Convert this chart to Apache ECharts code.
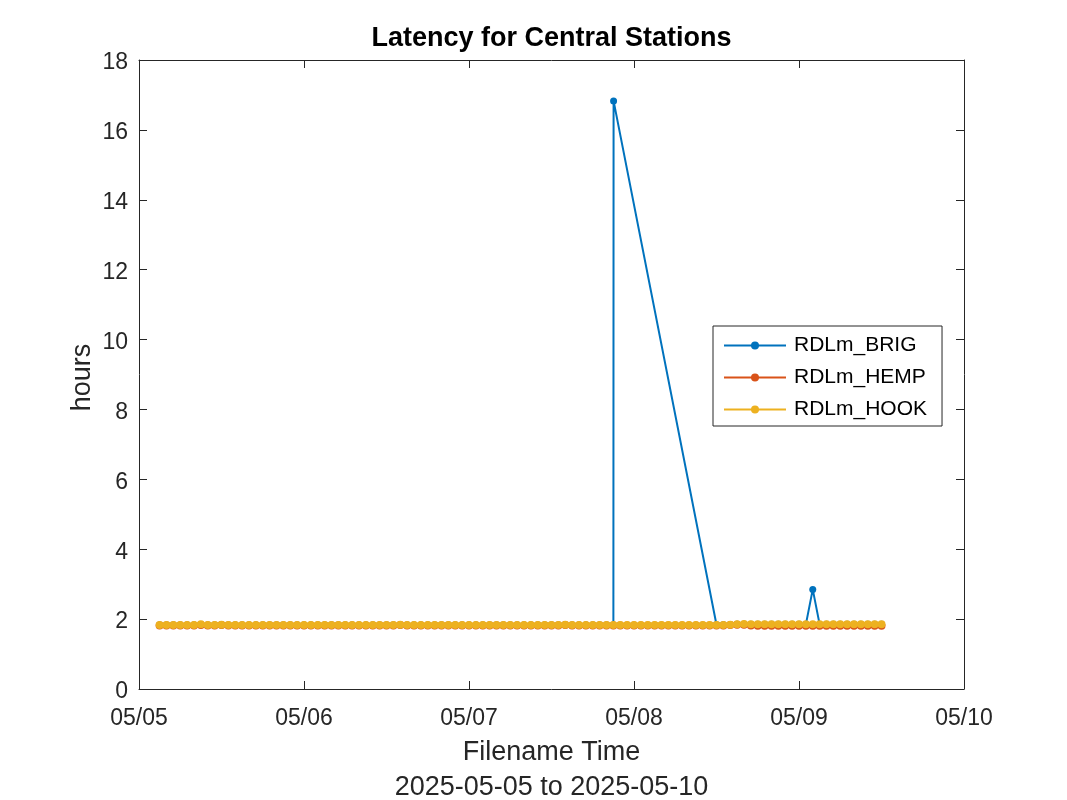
<!DOCTYPE html>
<html>
<head>
<meta charset="utf-8">
<script src="https://cdn.jsdelivr.net/npm/echarts@6/dist/echarts.min.js"></script>
<style>html,body{margin:0;padding:0;background:#fff}#c{width:1067px;height:800px}</style>
</head>
<body>
<div id="c"></div>
<script>
// x values are hours since 2025-05-05 00:00
var xTickLabels = ['05/05', '05/06', '05/07', '05/08', '05/09', '05/10'];
var yTicks = [0, 2, 4, 6, 8, 10, 12, 14, 16, 18];
var firstHour = 3;   // 05/05 03:00
var lastHour = 108;  // 05/09 12:00

var hookValues = [
  1.83,1.83,1.83,1.83,1.83,1.83,1.85,1.83,1.83,1.84,
  1.83,1.83,1.83,1.83,1.83,1.83,1.83,1.83,1.83,1.83,
  1.83,1.83,1.83,1.83,1.83,1.83,1.83,1.83,1.83,1.83,
  1.83,1.83,1.83,1.83,1.83,1.84,1.83,1.83,1.83,1.83,
  1.83,1.83,1.83,1.83,1.83,1.83,1.83,1.83,1.83,1.83,
  1.83,1.83,1.83,1.83,1.83,1.83,1.83,1.83,1.83,1.84,
  1.83,1.83,1.83,1.83,1.83,1.83,1.83,1.83,1.83,1.83,
  1.83,1.83,1.83,1.83,1.83,1.83,1.83,1.83,1.83,1.83,
  1.83,1.83,1.83,1.84,1.85,1.86,1.85,1.85,1.85,1.85,
  1.85,1.85,1.85,1.85,1.85,1.85,1.85,1.85,1.85,1.85,
  1.85,1.85,1.85,1.85,1.85,1.85
];
var hempValues = [
  1.82,1.82,1.82,1.82,1.82,1.82,1.83,1.82,1.82,1.83,
  1.82,1.82,1.82,1.82,1.82,1.82,1.82,1.82,1.82,1.82,
  1.82,1.82,1.82,1.82,1.82,1.82,1.82,1.82,1.82,1.82,
  1.82,1.82,1.82,1.82,1.82,1.83,1.82,1.82,1.82,1.82,
  1.82,1.82,1.82,1.82,1.82,1.82,1.82,1.82,1.82,1.82,
  1.82,1.82,1.82,1.82,1.82,1.82,1.82,1.82,1.82,1.83,
  1.82,1.82,1.82,1.82,1.82,1.82,1.82,1.82,1.82,1.82,
  1.82,1.82,1.82,1.82,1.82,1.82,1.82,1.82,1.82,1.82,
  1.82,1.82,1.82,1.83,1.84,1.84,1.82,1.81,1.81,1.81,
  1.81,1.81,1.81,1.81,1.81,1.81,1.81,1.81,1.81,1.81,
  1.81,1.81,1.81,1.81,1.81,1.81
];
// null = no file for that hour
var brigValues = [
  1.83,1.83,1.83,1.83,1.83,1.83,1.84,1.83,1.83,1.83,
  1.83,1.83,1.83,1.83,1.83,1.83,1.83,1.83,1.83,1.83,
  1.83,1.83,1.83,1.83,1.83,1.83,1.83,1.83,1.83,1.83,
  1.83,1.83,1.83,1.83,1.83,1.83,1.83,1.83,1.83,1.83,
  1.83,1.83,1.83,1.83,1.83,1.83,1.83,1.83,1.83,1.83,
  1.83,1.83,1.83,1.83,1.83,1.83,1.83,1.83,1.83,1.83,
  1.83,1.83,1.83,1.83,1.83,1.83,1.83,null,null,null,
  null,null,null,null,null,null,null,null,null,null,
  null,1.84,1.84,1.84,1.85,1.85,1.85,1.85,1.85,1.85,
  1.85,1.85,1.85,1.85,1.85,2.85,1.85,1.85,1.85,1.85,
  1.85,1.85,1.85,1.85,1.85,1.85
];
var brigSpikeHour = 69;
var brigSpikeValue = 16.83;

var hours = [];
for (var h = firstHour; h <= lastHour; h++) hours.push(h);

function pairs(vals) {
  var out = [];
  for (var i = 0; i < hours.length; i++) if (vals[i] !== null) out.push([hours[i], vals[i]]);
  return out;
}
var brigData = [];
for (var i = 0; i < hours.length; i++) {
  if (brigValues[i] !== null) brigData.push([hours[i], brigValues[i]]);
  if (hours[i] === brigSpikeHour) brigData.push([brigSpikeHour + 0.03, brigSpikeValue]);
}

var FONT = '"Liberation Sans", Arial, Helvetica, sans-serif';
var TXT = '#262626';
var L = 139, R = 964, T = 60, B = 689;

var chart = echarts.init(document.getElementById('c'), null, {renderer: 'canvas'});
function tick() { return {show: true, inside: true, length: 8, lineStyle: {color: TXT, width: 1}}; }
function line() { return {show: true, onZero: false, lineStyle: {color: TXT, width: 1}}; }

chart.setOption({
  backgroundColor: '#fff',
  animation: false,
  grid: {left: L, right: 1067 - R, top: T, bottom: 800 - B, containLabel: false},
  legend: {
    orient: 'vertical',
    left: 713, top: 326,
    backgroundColor: '#fff',
    borderColor: TXT, borderWidth: 1, borderRadius: 0,
    padding: [9, 15, 6, 10],
    itemWidth: 62, itemHeight: 10, itemGap: 11,
    textStyle: {fontFamily: FONT, fontSize: 21, color: '#000', padding: [0, 0, 0, 3]},
    data: ['RDLm_BRIG', 'RDLm_HEMP', 'RDLm_HOOK']
  },
  xAxis: [{
    type: 'value', min: 0, max: 120, interval: 24, position: 'bottom',
    axisLine: line(), axisTick: tick(), splitLine: {show: false},
    axisLabel: {
      show: true, margin: 18, color: TXT, fontFamily: FONT, fontSize: 23,
      formatter: function (v) { return xTickLabels[Math.round(v / 24)]; }
    }
  }, {
    type: 'value', min: 0, max: 120, interval: 24, position: 'top',
    axisLine: line(), axisTick: tick(), splitLine: {show: false},
    axisLabel: {show: false}
  }],
  yAxis: [{
    type: 'value', min: yTicks[0], max: yTicks[yTicks.length - 1], interval: 2, position: 'left',
    axisLine: line(), axisTick: tick(), splitLine: {show: false},
    axisLabel: {
      show: true, margin: 11, color: TXT, fontFamily: FONT, fontSize: 23,
      formatter: function (v) { return '{v|' + v + '}'; },
      rich: {v: {fontFamily: FONT, fontSize: 23, color: TXT, lineHeight: 23, padding: [6, 0, 0, 0]}}
    }
  }, {
    type: 'value', min: yTicks[0], max: yTicks[yTicks.length - 1], interval: 2, position: 'right',
    axisLine: line(), axisTick: tick(), splitLine: {show: false},
    axisLabel: {show: false}
  }],
  series: [{
    name: 'RDLm_BRIG', type: 'line', data: brigData, xAxisIndex: 0, yAxisIndex: 0,
    color: '#0072BD', symbol: 'circle', symbolSize: 7, showAllSymbol: true,
    lineStyle: {width: 2}, connectNulls: true, z: 2
  }, {
    name: 'RDLm_HEMP', type: 'line', data: pairs(hempValues),
    color: '#D95319', symbol: 'circle', symbolSize: 8, showAllSymbol: true,
    lineStyle: {width: 2}, z: 3
  }, {
    name: 'RDLm_HOOK', type: 'line', data: pairs(hookValues),
    color: '#EDB120', symbol: 'circle', symbolSize: 8, showAllSymbol: true,
    lineStyle: {width: 2}, z: 4
  }],
  graphic: [{
    type: 'text', x: (L + R) / 2, y: 39,
    style: {text: 'Latency for Central Stations', fontFamily: FONT, fontSize: 27, fontWeight: 'bold',
      fill: '#000', align: 'center', verticalAlign: 'middle'}
  }, {
    type: 'text', x: (L + R) / 2, y: 753,
    style: {text: 'Filename Time', fontFamily: FONT, fontSize: 27, fill: TXT, align: 'center', verticalAlign: 'middle'}
  }, {
    type: 'text', x: (L + R) / 2, y: 788,
    style: {text: '2025-05-05 to 2025-05-10', fontFamily: FONT, fontSize: 27, fill: TXT, align: 'center', verticalAlign: 'middle'}
  }, {
    type: 'text', x: 83, y: (T + B) / 2 + 3, rotation: Math.PI / 2,
    style: {text: 'hours', fontFamily: FONT, fontSize: 27, fill: TXT, align: 'center', verticalAlign: 'middle'}
  }]
});
</script>
</body>
</html>
